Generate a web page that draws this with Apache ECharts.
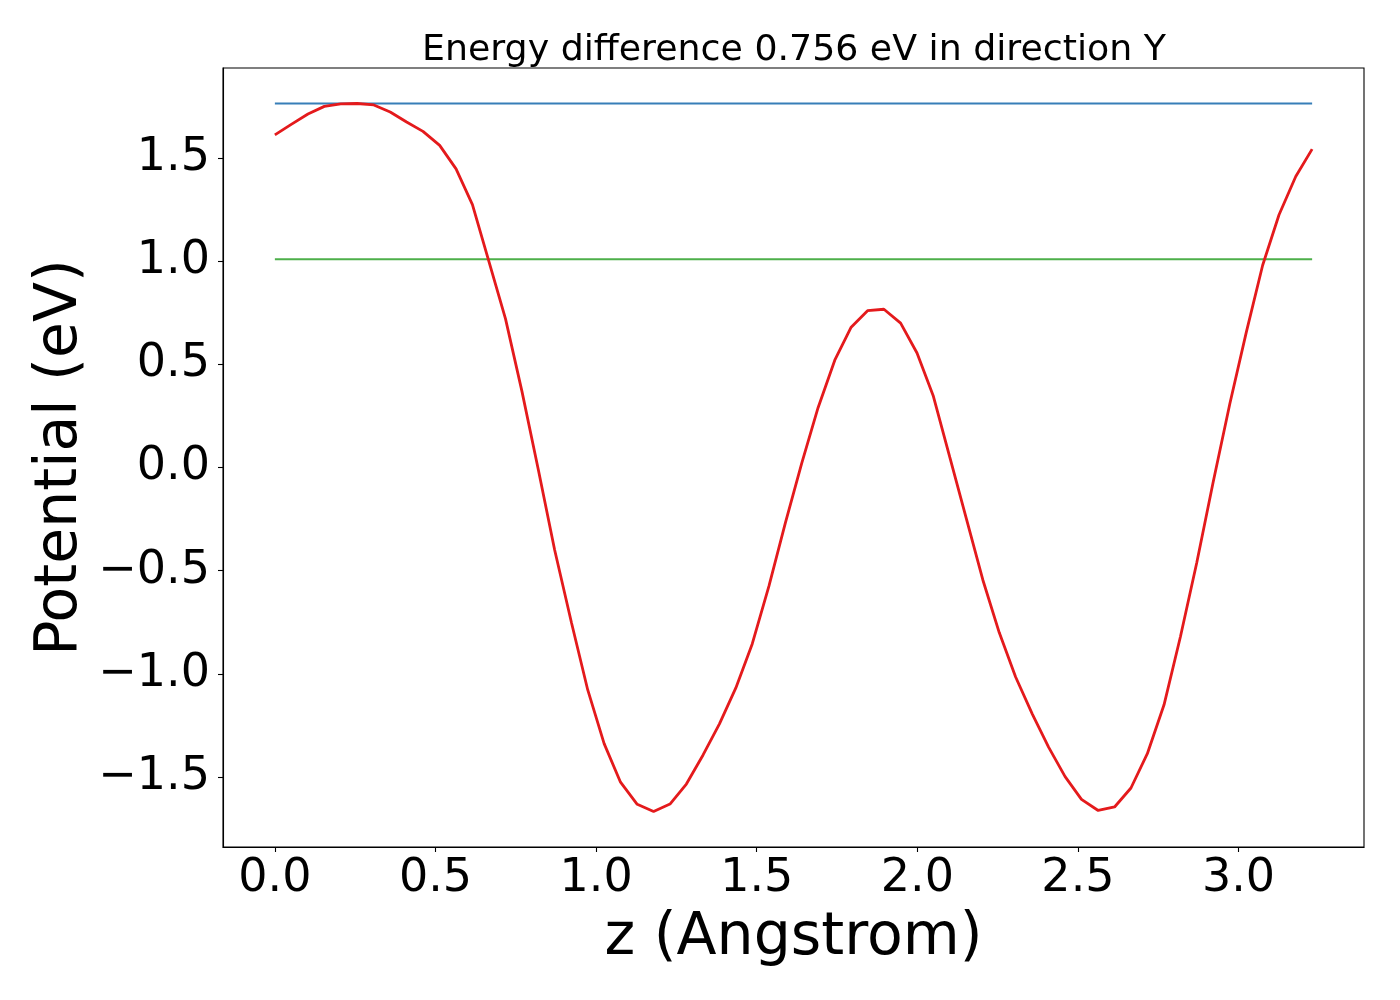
<!DOCTYPE html>
<html lang="en">
<head>
    <meta charset="UTF-8">
    <title>Potential</title>
    <script src="https://cdn.jsdelivr.net/npm/echarts@6/dist/echarts.min.js"></script>
    <style>
        body { margin: 0; background: #fff; }
    </style>
</head>
<body>
<div id="main" style="width: 1400px;height:1000px;"></div>
<script type="text/javascript">
    // z positions (Angstrom)
    var zValues = [0, 0.051, 0.103, 0.154, 0.205, 0.256, 0.308, 0.359, 0.41, 0.461,
        0.513, 0.564, 0.615, 0.666, 0.718, 0.769, 0.82, 0.871, 0.923, 0.974,
        1.025, 1.076, 1.128, 1.179, 1.23, 1.281, 1.333, 1.384, 1.435, 1.486,
        1.538, 1.589, 1.64, 1.691, 1.743, 1.794, 1.845, 1.896, 1.948, 1.999,
        2.05, 2.101, 2.153, 2.204, 2.255, 2.306, 2.358, 2.409, 2.46, 2.511,
        2.563, 2.614, 2.665, 2.716, 2.768, 2.819, 2.87, 2.921, 2.973, 3.024,
        3.075, 3.126, 3.178, 3.229];
    // potential (eV)
    var potential = [1.612, 1.663, 1.713, 1.750, 1.762, 1.764, 1.757, 1.723, 1.674, 1.629,
        1.561, 1.447, 1.274, 1.000, 0.720, 0.370, -0.010, -0.400, -0.750, -1.078,
        -1.338, -1.525, -1.632, -1.667, -1.631, -1.534, -1.393, -1.242, -1.068, -0.855,
        -0.575, -0.270, 0.020, 0.290, 0.520, 0.680, 0.760, 0.767, 0.700, 0.555,
        0.345, 0.050, -0.250, -0.545, -0.800, -1.015, -1.195, -1.356, -1.498, -1.608,
        -1.662, -1.645, -1.553, -1.387, -1.150, -0.820, -0.460, -0.070, 0.310, 0.655,
        0.980, 1.225, 1.410, 1.543];
    // horizontal reference levels
    var refZ = [0, 3.229];
    var maxLevel = [1.764, 1.764];
    var refLevel = [1.009, 1.009];
    // ticks
    var xTicks = [0, 0.5, 1.0, 1.5, 2.0, 2.5, 3.0];
    var yTicks = [-1.5, -1.0, -0.5, 0, 0.5, 1.0, 1.5];

    function pairs(xs, ys) {
        var out = [];
        for (var i = 0; i < xs.length; i++) {
            out.push([xs[i], ys[i]]);
        }
        return out;
    }

    function fmt(v) {
        return v.toFixed(1).replace('-', '\u2212');
    }

    var font = 'DejaVu Sans';
    var myChart = echarts.init(document.getElementById('main'));
    var option = {
        animation: false,
        backgroundColor: '#fff',
        title: {
            text: 'Energy difference 0.756 eV in direction Y',
            left: 789,
            top: 28,
            textAlign: 'center',
            textStyle: { fontFamily: font, fontSize: 36.3, fontWeight: 'normal', color: '#000' }
        },
        grid: {
            left: 223,
            top: 68,
            right: 36,
            bottom: 153,
            show: true,
            borderColor: '#000',
            borderWidth: 1.1
        },
        xAxis: {
            type: 'value',
            min: -0.1615,
            max: 3.3905,
            name: 'z (Angstrom)',
            nameLocation: 'middle',
            nameGap: 62,
            nameMoveOverlap: false,
            nameTextStyle: { fontFamily: font, fontSize: 58.5, color: '#000' },
            axisLine: { show: true, onZero: false, lineStyle: { color: '#000', width: 1.1 } },
            axisTick: { show: true, inside: false, length: 5, customValues: xTicks, lineStyle: { color: '#000', width: 1.1 } },
            axisLabel: { margin: 9, customValues: xTicks, formatter: fmt, fontFamily: font, fontSize: 46, color: '#000' },
            splitLine: { show: false }
        },
        yAxis: {
            type: 'value',
            min: -1.839,
            max: 1.936,
            name: 'Potential (eV)',
            nameLocation: 'middle',
            nameGap: 133,
            nameMoveOverlap: false,
            nameTextStyle: { fontFamily: font, fontSize: 58.5, color: '#000' },
            axisLine: { show: true, onZero: false, lineStyle: { color: '#000', width: 1.1 } },
            axisTick: { show: true, inside: false, length: 5, customValues: yTicks, lineStyle: { color: '#000', width: 1.1 } },
            axisLabel: { margin: 13, customValues: yTicks, formatter: fmt, fontFamily: font, fontSize: 46, color: '#000' },
            splitLine: { show: false }
        },
        series: [
            {
                name: 'max',
                type: 'line',
                showSymbol: false,
                data: pairs(refZ, maxLevel),
                lineStyle: { color: '#377eb8', width: 2 }
            },
            {
                name: 'ref',
                type: 'line',
                showSymbol: false,
                data: pairs(refZ, refLevel),
                lineStyle: { color: '#4daf4a', width: 2 }
            },
            {
                name: 'potential',
                type: 'line',
                showSymbol: false,
                data: pairs(zValues, potential),
                lineStyle: { color: '#e41a1c', width: 2.8 }
            }
        ]
    };
    myChart.setOption(option);
</script>
</body>
</html>
